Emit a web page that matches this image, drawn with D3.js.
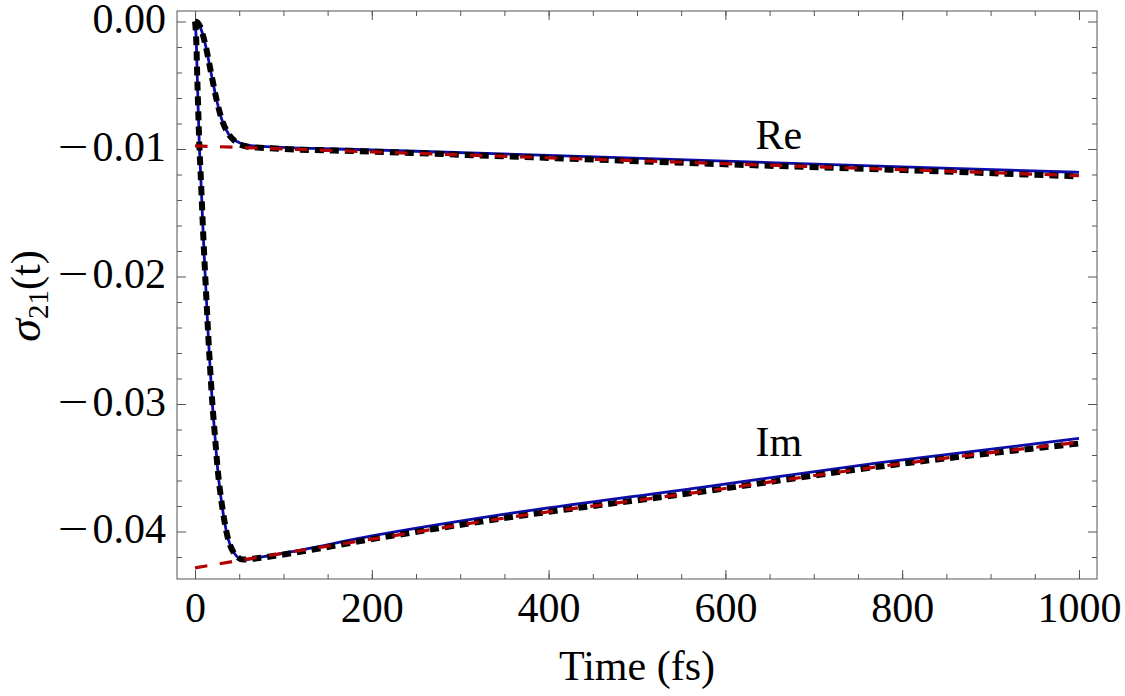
<!DOCTYPE html>
<html>
<head>
<meta charset="utf-8">
<script src="https://cdn.jsdelivr.net/npm/d3@7"></script>
<style>
  html, body { margin: 0; padding: 0; background: #fff; }
  svg { display: block; }
  text { font-family: "Liberation Serif", "Times New Roman", Times, serif; fill: #000; }
</style>
</head>
<body>
<svg id="chart" width="1125" height="696"></svg>
<script>
// ---------------- data ----------------
// Exact (blue) solution, real part
const reBlueT = [0, 3, 5.7, 11.3, 18.9, 24.6, 30.3, 37.7, 47.2, 58.6, 73.5, 200, 400, 600, 800, 1000];
const reBlueV = [0, -0.0001, -0.0004, -0.0017, -0.0043, -0.0062, -0.0077, -0.0088, -0.0094, -0.0097, -0.0098, -0.01007, -0.0105, -0.01095, -0.0114, -0.01183];
// Approximation (black dashed), real part
const reBlackT = [0, 3, 5.7, 11.3, 18.9, 24.6, 30.3, 37.7, 47.2, 58.6, 73.5, 200, 400, 600, 800, 1000];
const reBlackV = [0, -0.0001, -0.0004, -0.0017, -0.0043, -0.0062, -0.0077, -0.0088, -0.0095, -0.0098, -0.0099, -0.0102, -0.0107, -0.0112, -0.01165, -0.01215];
// Asymptote (red dashed), real part
const reRedT = [0, 500, 1000];
const reRedV = [-0.00976, -0.01092, -0.01209];

// Exact (blue) solution, imaginary part
const imBlueT = [0, 1.5, 2.5, 3.6, 4.8, 6.2, 7.8, 9.4, 11.2, 13.1, 15.0, 17.0, 19.6, 22.6, 25.7, 30.2, 35.9, 43.3, 54.6, 69.8, 96.2, 200, 345, 571, 775, 1000];
const imBlueV = [0, -0.0017, -0.0043, -0.0069, -0.0096, -0.0117, -0.0143, -0.0169, -0.0195, -0.0221, -0.0247, -0.0271, -0.02995, -0.03256, -0.03518, -0.03779, -0.04014, -0.04158, -0.04224, -0.04205, -0.04175, -0.04035, -0.0387, -0.03655, -0.0346, -0.0327];
// Approximation (black dashed), imaginary part
const imBlackT = [0, 1.5, 2.5, 3.6, 4.8, 6.2, 7.8, 9.4, 11.2, 13.1, 15.0, 17.0, 19.6, 22.6, 25.7, 30.2, 35.9, 43.3, 54.6, 69.8, 100, 200, 345, 571, 775, 1000];
const imBlackV = [0, -0.0017, -0.0043, -0.0069, -0.0096, -0.0117, -0.0143, -0.0169, -0.0195, -0.0221, -0.0247, -0.0271, -0.02995, -0.03256, -0.03518, -0.03779, -0.04014, -0.0416, -0.0422, -0.0421, -0.0418, -0.0406, -0.0390, -0.0369, -0.0349, -0.0331];
// Asymptote (red dashed), imaginary part
const imRedT = [0, 100, 200, 345, 571, 775, 1000];
const imRedV = [-0.04285, -0.0417, -0.0406, -0.0390, -0.0369, -0.0349, -0.0330];

// ticks and labels
const xMajorTicks = [0, 200, 400, 600, 800, 1000];
const xMinorTicks = d3.range(0, 1001, 50);
const yMajorTicks = [0, -0.01, -0.02, -0.03, -0.04];
const yMinorTicks = [-0.042, -0.038, -0.036, -0.034, -0.032, -0.028, -0.026, -0.024, -0.022,
                     -0.018, -0.016, -0.014, -0.012, -0.008, -0.006, -0.004, -0.002];
const xTitle = "Time (fs)";
const seriesLabels = [{text: "Re", t: 634, v: -0.0100}, {text: "Im", t: 634, v: -0.0341}];

// ---------------- layout ----------------
const L = 177, R = 1097, T = 11, B = 579;
const svg = d3.select("#chart");

const x = d3.scaleLinear().domain([-20.4, 1020.4]).range([L, R]);
// 0 -> 21.5 px, -0.04 -> 531.5 px
const yPerUnit = (531.5 - 21.5) / 0.04;
const y = d3.scaleLinear()
  .domain([-(B - 21.5) / yPerUnit, (21.5 - T) / yPerUnit])
  .range([B, T]);

const FONT = 42;
const tickColor = "#555";

function styleAxis(g) {
  g.select(".domain").remove();
  g.selectAll(".tick line").attr("stroke", tickColor).attr("stroke-width", 1);
  g.selectAll(".tick text").style("font-size", FONT + "px").attr("fill", "#000");
}

// minor ticks
svg.append("g").attr("transform", `translate(0,${B})`)
  .call(d3.axisBottom(x).tickValues(xMinorTicks).tickSizeInner(-5).tickSizeOuter(0).tickFormat(""))
  .call(styleAxis);
svg.append("g").attr("transform", `translate(0,${T})`)
  .call(d3.axisTop(x).tickValues(xMinorTicks).tickSizeInner(-5).tickSizeOuter(0).tickFormat(""))
  .call(styleAxis);
svg.append("g").attr("transform", `translate(${L},0)`)
  .call(d3.axisLeft(y).tickValues(yMinorTicks).tickSizeInner(-5).tickSizeOuter(0).tickFormat(""))
  .call(styleAxis);
svg.append("g").attr("transform", `translate(${R},0)`)
  .call(d3.axisRight(y).tickValues(yMinorTicks).tickSizeInner(-5).tickSizeOuter(0).tickFormat(""))
  .call(styleAxis);

// major ticks
svg.append("g").attr("transform", `translate(0,${B})`)
  .call(d3.axisBottom(x).tickValues(xMajorTicks).tickSizeInner(-9).tickSizeOuter(0).tickPadding(13).tickFormat(d3.format("d")))
  .call(styleAxis);
svg.append("g").attr("transform", `translate(0,${T})`)
  .call(d3.axisTop(x).tickValues(xMajorTicks).tickSizeInner(-9).tickSizeOuter(0).tickFormat(""))
  .call(styleAxis);
const yAx = svg.append("g").attr("transform", `translate(${L},0)`)
  .call(d3.axisLeft(y).tickValues(yMajorTicks).tickSizeInner(-9).tickSizeOuter(0).tickPadding(11)
        .tickFormat(d => Math.abs(d).toFixed(2)))
  .call(styleAxis);
yAx.selectAll(".tick text").attr("dy", "0.27em");
// long math minus sign in front of negative labels
yAx.selectAll(".tick").filter(d => d < 0).each(function() {
  const tick = d3.select(this);
  const num = tick.select("text");
  const w = num.node().getComputedTextLength();
  const right = -11 - w - 4;
  tick.append("text")
    .attr("transform", `translate(${right},0) scale(1.3,1)`)
    .attr("text-anchor", "end").attr("dy", "0.27em")
    .style("font-size", FONT + "px").text("\u2212");
});
svg.append("g").attr("transform", `translate(${R},0)`)
  .call(d3.axisRight(y).tickValues(yMajorTicks).tickSizeInner(-9).tickSizeOuter(0).tickFormat(""))
  .call(styleAxis);

// frame
svg.append("rect").attr("x", L).attr("y", T).attr("width", R - L).attr("height", B - T)
  .attr("fill", "none").attr("stroke", tickColor).attr("stroke-width", 1);

// clip
svg.append("clipPath").attr("id", "clip").append("rect")
  .attr("x", L).attr("y", T).attr("width", R - L).attr("height", B - T);
const plot = svg.append("g").attr("clip-path", "url(#clip)");

const line = d3.line().x(d => x(d[0])).y(d => y(d[1])).curve(d3.curveMonotoneX);
const zip = (ts, vs) => ts.map((t, i) => [t, vs[i]]);

const blue = "#0c0caa", red = "#b30000", black = "#000";
function draw(ts, vs, color, width, dash) {
  const p = plot.append("path").datum(zip(ts, vs)).attr("d", line)
    .attr("fill", "none").attr("stroke", color).attr("stroke-width", width)
    .attr("stroke-linejoin", "round");
  if (dash) p.attr("stroke-dasharray", dash);
  return p;
}
draw(reBlueT, reBlueV, blue, 2.8);
draw(imBlueT, imBlueV, blue, 2.8);
draw(reBlackT, reBlackV, black, 6, "9,6");
draw(imBlackT, imBlackV, black, 6, "9,6");
draw(reRedT, reRedV, red, 3.2, "12.5,12.5");
draw(imRedT, imRedV, red, 3.2, "12.5,12.5");

// series labels
seriesLabels.forEach(s => {
  svg.append("text").attr("x", x(s.t)).attr("y", y(s.v))
    .style("font-size", FONT + "px").text(s.text);
});

// axis titles
svg.append("text").attr("x", (L + R) / 2).attr("y", 680)
  .attr("text-anchor", "middle").style("font-size", FONT + "px").text(xTitle);

const yt = svg.append("text").attr("transform", "translate(40,296) rotate(-90)")
  .attr("text-anchor", "middle").style("font-size", FONT + "px");
yt.append("tspan").style("font-style", "italic").style("font-size", "46px").text("σ");
yt.append("tspan").attr("dy", 8).style("font-size", "29px").text("21");
yt.append("tspan").attr("dy", -8).text("(t)");
</script>
</body>
</html>
